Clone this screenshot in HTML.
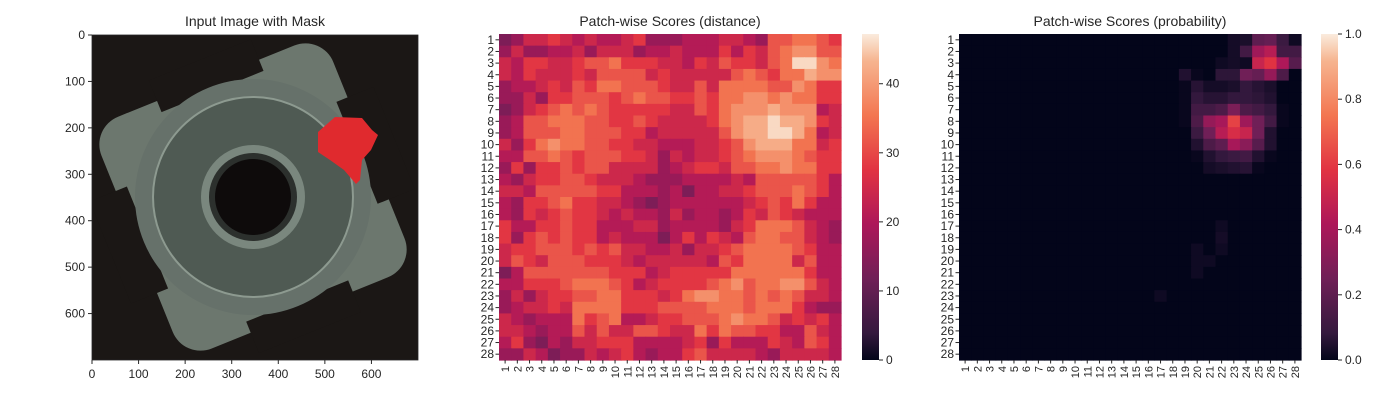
<!DOCTYPE html>
<html><head><meta charset="utf-8"><style>
body{margin:0;background:#fff;font-family:"Liberation Sans","DejaVu Sans",sans-serif;}
svg text{font-family:"Liberation Sans","DejaVu Sans",sans-serif;fill:#262626;}
</style></head><body>
<svg id="root" width="1400" height="400" viewBox="0 0 1400 400" xmlns="http://www.w3.org/2000/svg">
<defs>
<linearGradient id="rocketV" x1="0" y1="1" x2="0" y2="0">
<stop offset="0" stop-color="#03051a"/><stop offset="0.083" stop-color="#35193e"/><stop offset="0.25" stop-color="#701f57"/><stop offset="0.417" stop-color="#ad1759"/><stop offset="0.583" stop-color="#e13342"/><stop offset="0.75" stop-color="#f37651"/><stop offset="0.917" stop-color="#f6b48f"/><stop offset="1" stop-color="#faebdd"/>
</linearGradient>
<clipPath id="imgclip"><rect x="92" y="35" width="326" height="325"/></clipPath>
</defs>
<g id="p1">
<text x="255" y="26" text-anchor="middle" font-size="14">Input Image with Mask</text>
<g clip-path="url(#imgclip)">
<rect x="92" y="35" width="326" height="325" fill="#1b1715"/>
<g transform="rotate(-22 253 197)">
<rect x="128" y="72" width="250" height="250" rx="30" fill="#6c776e"/>
<rect x="100" y="140" width="40" height="110" fill="#1b1715"/>
<rect x="366" y="140" width="40" height="110" fill="#1b1715"/>
<rect x="200" y="50" width="110" height="34" fill="#1b1715"/>
<rect x="200" y="310" width="110" height="34" fill="#1b1715"/>
</g>
<circle cx="253" cy="197" r="118" fill="#66716a"/>
<circle cx="253" cy="197" r="100" fill="#4f5a53" stroke="#8d9a90" stroke-width="2"/>
<circle cx="253" cy="197" r="52" fill="#7a877e"/>
<circle cx="253" cy="197" r="44" fill="#2c302d"/>
<circle cx="253" cy="197" r="38" fill="#0e0b0b"/>
<path d="M318,132 L335,117 L362,118 L372,130 L378,135 L371,150 L362,160 L360,180 L356,184 L344,170 L330,160 L318,152 Z" fill="#e02a2e"/>
</g>
<rect x="92" y="35" width="326" height="325" fill="none" stroke="#262626" stroke-width="0.8"/>
<g id="p1ticks" font-size="12"></g>
</g>
<g id="p2">
<text x="670" y="26" text-anchor="middle" font-size="14">Patch-wise Scores (distance)</text>
<g id="hm2"></g>
<rect x="862" y="34" width="17" height="326" fill="url(#rocketV)"/>
<g id="cb2" font-size="12"></g>
</g>
<g id="p3">
<text x="1130" y="26" text-anchor="middle" font-size="14">Patch-wise Scores (probability)</text>
<g id="hm3"></g>
<rect x="1321" y="34" width="17" height="326" fill="url(#rocketV)"/>
<g id="cb3" font-size="12"></g>
</g>
</svg>
<script>
const imgTicks=[0,100,200,300,400,500,600];
const distRows=[
"0133432322341112223321556654",
"1311223133312232224243567755",
"3244334556444332435443569976",
"3243334355553433333565466877",
"1223435466555433536666557644",
"1131445554565544546677676644",
"0134565654444433546777877723",
"1255666554454333346788988743",
"1255566555442333335788998623",
"3146766554433222334578886634",
"2255654555443132334567776544",
"1414454553333123443556676644",
"2134455433321112222325555542",
"3325555544222120223345556542",
"2144564433210122222234546422",
"2143454432322131221243543222",
"4224454422233122221346665321",
"4145454423222024243256655321",
"3445554545332231334566665422",
"3543555444323333325466663522",
"0255555554442344444666666422",
"2244456665423444456756677532",
"1313445566444346776656565332",
"1233436666444555566656664211",
"3212226456223445556766534342",
"3321225353355433646554422532",
"2410213344422223414222432542",
"1132011323421224533332133332"];
const distTicks=[0,10,20,30,40];
const distMax=47.2;
const probTop=[
[0,0,0,0,0,0,0,0,0,0,0,0,0,0,0,0,0,0,0,0,0,0,0.03,0.04,0.2,0.22,0.1,0.02],
[0,0,0,0,0,0,0,0,0,0,0,0,0,0,0,0,0,0,0,0,0,0,0.03,0.12,0.38,0.45,0.12,0.12],
[0,0,0,0,0,0,0,0,0,0,0,0,0,0,0,0,0,0,0,0,0,0.02,0.03,0.02,0.5,0.58,0.42,0.18],
[0,0,0,0,0,0,0,0,0,0,0,0,0,0,0,0,0,0,0.05,0.01,0,0.07,0.07,0.25,0.22,0.35,0.15,0],
[0,0,0,0,0,0,0,0,0,0,0,0,0,0,0,0,0,0,0.01,0.06,0.03,0.03,0.04,0.08,0.06,0.04,0,0],
[0,0,0,0,0,0,0,0,0,0,0,0,0,0,0,0,0,0,0.01,0.08,0.06,0.06,0.08,0.08,0.07,0.05,0,0],
[0,0,0,0,0,0,0,0,0,0,0,0,0,0,0,0,0,0,0.01,0.12,0.12,0.15,0.28,0.15,0.12,0.08,0.01,0],
[0,0,0,0,0,0,0,0,0,0,0,0,0,0,0,0,0,0,0.01,0.15,0.35,0.4,0.62,0.38,0.25,0.12,0.01,0],
[0,0,0,0,0,0,0,0,0,0,0,0,0,0,0,0,0,0,0,0.1,0.25,0.45,0.55,0.5,0.25,0.05,0,0],
[0,0,0,0,0,0,0,0,0,0,0,0,0,0,0,0,0,0,0,0.05,0.15,0.2,0.4,0.32,0.18,0.05,0,0],
[0,0,0,0,0,0,0,0,0,0,0,0,0,0,0,0,0,0,0,0.01,0.05,0.08,0.1,0.12,0.05,0.01,0,0],
[0,0,0,0,0,0,0,0,0,0,0,0,0,0,0,0,0,0,0,0,0.03,0.04,0.05,0.06,0.01,0,0,0]];
const probRest=[
"0000000000000000000000000000",
"0000000000000000000000000000",
"0000000000000000000000000000",
"0000000000000000000000000000",
"0000000000000000000002000000",
"0000000000000000000003000000",
"0000000000000000000202000000",
"0000000000000000000220000000",
"0000000000000000000200000000",
"0000000000000000000000000000",
"0000000000000000200000000000",
"0000000000000000000000000000",
"0000000000000000000000000000",
"0000000000000000000000000000",
"0000000000000000000000000000",
"0000000000000000000000000000"];
const probTicks=[0,0.2,0.4,0.6,0.8,1.0];

const stops=[[0,[3,5,26]],[0.083,[53,25,62]],[0.25,[112,31,87]],[0.417,[173,23,89]],[0.583,[225,51,66]],[0.75,[243,118,81]],[0.917,[246,180,143]],[1,[250,235,221]]];
function rocket(t){t=Math.max(0,Math.min(1,t));for(let i=1;i<stops.length;i++){if(t<=stops[i][0]){const a=stops[i-1],b=stops[i];const f=(t-a[0])/(b[0]-a[0]);const c=a[1].map((v,k)=>Math.round(v+(b[1][k]-v)*f));return `rgb(${c})`;}}return 'rgb(250,235,221)';}
const NS="http://www.w3.org/2000/svg";
function mk(tag,attrs,parent){const e=document.createElementNS(NS,tag);for(const k in attrs)e.setAttribute(k,attrs[k]);parent.appendChild(e);return e;}
const p1=document.getElementById('p1ticks');
const ix=v=>92+v*326/700, iy=v=>35+v*325/700;
imgTicks.forEach(v=>{
 mk('line',{x1:ix(v),x2:ix(v),y1:360,y2:364,stroke:'#262626'},p1);
 const t=mk('text',{x:ix(v),y:378,'text-anchor':'middle'},p1);t.textContent=v;
 
 
 mk('line',{x1:88,x2:92,y1:iy(v),y2:iy(v),stroke:'#262626'},p1);
 const u=mk('text',{x:85,y:iy(v)+4,'text-anchor':'end'},p1);u.textContent=v;
 
 
});
function heat(gid,x0,x1,y0,y1,getVal,vmax,name){
 const g=document.getElementById(gid);const n=28;const cw=(x1-x0)/n,ch=(y1-y0)/n;
 for(let r=0;r<n;r++)for(let c=0;c<n;c++){
  const rect=mk('rect',{x:x0+c*cw,y:y0+r*ch,width:cw+0.6,height:ch+0.6,fill:rocket(getVal(r,c)/vmax)},g);
  
  
 }
 for(let i=0;i<n;i++){
  const xc=x0+(i+0.5)*cw, yc=y0+(i+0.5)*ch;
  mk('line',{x1:xc,x2:xc,y1:y1,y2:y1+3.5,stroke:'#262626'},g);
  const t=mk('text',{x:0,y:0,'font-size':11,'text-anchor':'end',transform:`translate(${xc+4},${y1+6}) rotate(-90)`},g);t.textContent=i+1;
  
  
  mk('line',{x1:x0-3.5,x2:x0,y1:yc,y2:yc,stroke:'#262626'},g);
  const u=mk('text',{x:x0-5,y:yc+4,'font-size':12,'text-anchor':'end'},g);u.textContent=i+1;
  
  
 }
}
heat('hm2',499,841,34,360,(r,c)=>13.5+parseInt(distRows[r][c])*3.6,distMax,'distance');
heat('hm3',959,1301,34,360,(r,c)=>r<12?probTop[r][c]:parseInt(probRest[r-12][c])/100,1,'probability');
function cbar(gid,x,ticks,vmax,fmt){
 const g=document.getElementById(gid);
 ticks.forEach(v=>{const y=360-v/vmax*326;
  mk('line',{x1:x+17,x2:x+21,y1:y,y2:y,stroke:'#262626'},g);
  const t=mk('text',{x:x+24,y:y+4},g);t.textContent=fmt(v);
  
  
 });
}
cbar('cb2',862,distTicks,distMax,v=>v);
cbar('cb3',1321,probTicks,1,v=>v.toFixed(1));
</script>
</body></html>
